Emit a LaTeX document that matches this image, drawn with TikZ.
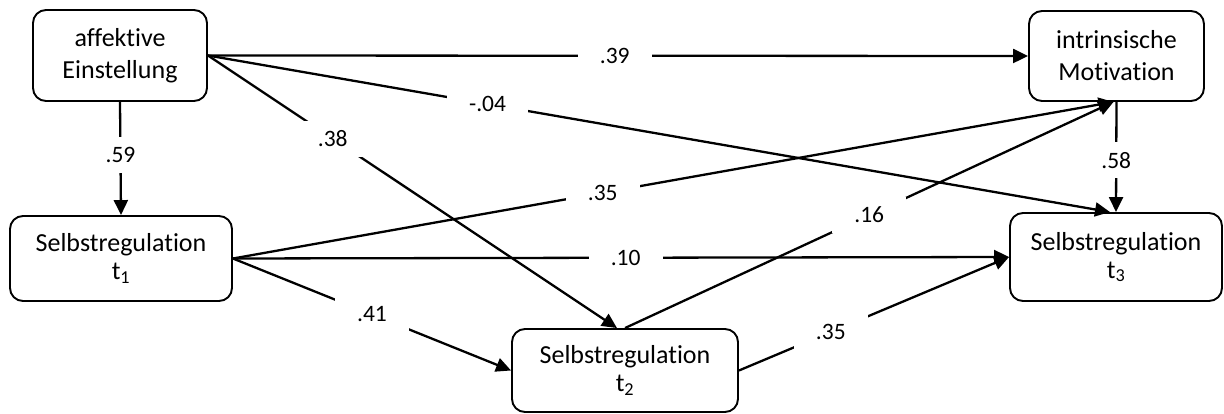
\documentclass[tikz,border=0pt]{standalone}
\usepackage{fontspec}
\setmainfont[Ligatures=NoCommon]{Carlito}
\usetikzlibrary{arrows.meta,calc}

\begin{document}
\begin{tikzpicture}[x=1pt,y=-1pt,
  box/.style={draw, line width=1.9pt, rounded corners=13pt, align=center,
    font=\fontsize{26}{32}\selectfont, inner sep=0pt},
  effect/.style={line width=2.3pt, -{Triangle[length=15pt,width=14pt]}},
  coef/.style={fill=white, inner xsep=22pt, inner ysep=10pt,
    font=\fontsize{23.5}{28}\selectfont}]
\useasboundingbox (0,0) rectangle (1224,414);

% variables
\node[box, minimum width=174pt, minimum height=91pt] (A) at (120,55.5) {affektive\\Einstellung};
\node[box, minimum width=175pt, minimum height=90pt] (IM) at (1116.5,56) {intrinsische\\Motivation};
\node[box, minimum width=222pt, minimum height=85pt] (S1) at (121,258.5) {Selbstregulation\\[-4pt]t\textsubscript{1}};
\node[box, minimum width=226pt, minimum height=83pt] (S2) at (625,370.5) {Selbstregulation\\[-4pt]t\textsubscript{2}};
\node[box, minimum width=212pt, minimum height=88pt] (S3) at (1116,257) {Selbstregulation\\[-4pt]t\textsubscript{3}};

% paths with coefficients
\draw[effect] (A.south) -- node[coef, pos=.47] {.59} (S1.north);
\draw[effect] (A.east) -- node[coef, pos=.496] {.39} (IM.west);
\draw[effect] (A.east) -- node[coef, pos=.31] {-.04} ($(S3.north)+(-6,0)$);
\draw[effect] (A.east) -- node[coef, pos=.305] {.38} ($(S2.north)+(-8,0)$);
\draw[effect] (S1.east) -- node[coef, pos=.42] {.35} ($(IM.south)+(-3,0)$);
\draw[effect] (S1.east) -- node[coef, pos=.506] {.10} (S3.west);
\draw[effect] (S1.east) -- node[coef, pos=.5] {.41} (S2.west);
\draw[effect] (S2.north) -- node[coef, pos=.5] {.16} ($(IM.south)+(-3,0)$);
\draw[effect] (S2.east) -- node[coef, pos=.34] {.35} (S3.west);
\draw[effect] (IM.south) -- node[coef, pos=.53] {.58} (S3.north);
\end{tikzpicture}
\end{document}
